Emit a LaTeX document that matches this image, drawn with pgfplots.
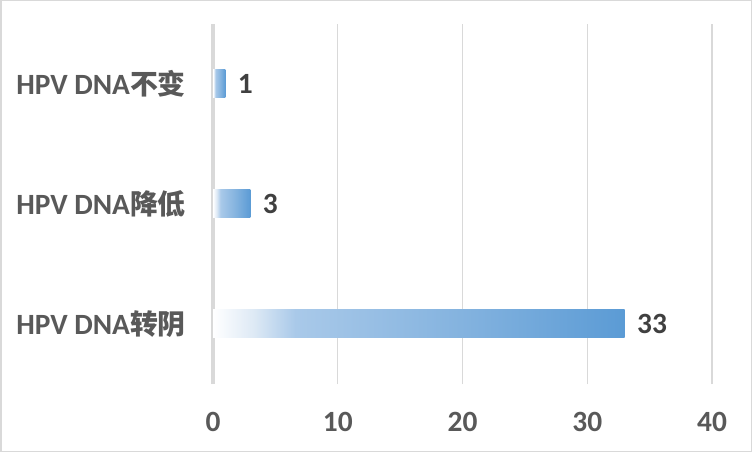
\documentclass[border=0pt]{standalone}
\usepackage{fontspec}
\setmainfont{Carlito}
\newfontfamily\cjk{Noto Sans CJK SC}
\usepackage{pgfplots}
\pgfplotsset{compat=1.18}

\definecolor{barblue}{HTML}{5B9BD5}
\definecolor{fadeA}{HTML}{DDE9F5}
\definecolor{fadeB}{HTML}{A9C9E9}
\definecolor{fadeC}{HTML}{84B3DF}
\definecolor{gridgray}{HTML}{D9D9D9}
\definecolor{labelgray}{HTML}{595959}
\definecolor{valgray}{HTML}{404040}

% white on the left, blue at the end of each bar
\pgfdeclarehorizontalshading{barfade}{100bp}{%
  color(0bp)=(white); color(25bp)=(white); color(30bp)=(fadeA);
  color(35bp)=(fadeB); color(55bp)=(fadeC); color(75bp)=(barblue);
  color(100bp)=(barblue)}

\newcommand{\cat}[1]{HPV DNA{\fontsize{28}{32}\selectfont\cjk #1}}

\begin{document}
\begin{tikzpicture}
  \useasboundingbox (0,0) rectangle (752bp,452bp);
  \draw[gridgray, line width=1.5bp] (0.75bp,0.75bp) rectangle (751.25bp,451.25bp);
  \begin{axis}[
      at={(213bp,68bp)},
      anchor=south west,
      scale only axis,
      width=499bp,
      height=360bp,
      clip=false,
      xbar,
      bar width=28bp,
      bar shift=0pt,
      xmin=0, xmax=40,
      ymin=-0.5, ymax=2.5,
      axis line style={draw=none},
      major tick length=0pt,
      xtick={0,10,20,30,40},
      xticklabels={0,10,20,30,40},
      ytick={0,1,2},
      yticklabels={{\cat{转阴}},{\cat{降低}},{\cat{不变}}},
      xmajorgrids,
      grid style={gridgray, line width=1.2bp},
      tick label style={font=\fontsize{29.5}{33}\selectfont\bfseries, text=labelgray},
      xticklabel style={anchor=center, yshift=-38bp},
      yticklabel style={anchor=east, inner sep=0pt, xshift=-27bp},
      /pgf/number format/assume math mode=true,
      nodes near coords,
      every node near coord/.append style={
        font=\fontsize{29.5}{33}\selectfont\bfseries, text=valgray,
        anchor=west, xshift=9bp},
    ]
    \draw[gridgray, line width=3bp] (axis cs:0,-0.5) -- (axis cs:0,2.5);
    % one plot per bar, so that each bar gets its own fade
    \addplot[draw=none, shading=barfade] coordinates {(33,0)};
    \addplot[draw=none, shading=barfade] coordinates {(3,1)};
    \addplot[draw=none, shading=barfade] coordinates {(1,2)};
  \end{axis}
\end{tikzpicture}
\end{document}
